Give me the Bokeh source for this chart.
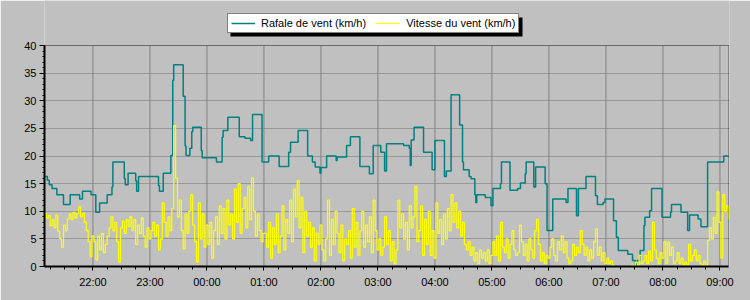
from bokeh.plotting import figure
from bokeh.models import Range1d, FixedTicker, Legend, LegendItem, BoxAnnotation
from bokeh.embed import file_html
from bokeh.resources import INLINE

# ---------------- data ----------------
tick_labels = ["22:00", "23:00", "00:00", "01:00", "02:00", "03:00",
               "04:00", "05:00", "06:00", "07:00", "08:00", "09:00"]
y_ticks = [0, 5, 10, 15, 20, 25, 30, 35, 40]

series_names = ["Rafale de vent (km/h)", "Vitesse du vent (km/h)"]

# Rafale (gust) : step changes (time, value)
rafale_times = [
    "21:09", "21:12", "21:14", "21:17", "21:22", "21:29", "21:36", "21:46", "21:49", "21:58",
    "22:03", "22:07", "22:15", "22:20", "22:21", "22:33", "22:34", "22:37", "22:45", "22:46",
    "22:48", "23:09", "23:10", "23:14", "23:22", "23:24", "23:25", "23:35", "23:37", "23:38",
    "23:42", "23:44", "23:45", "23:54", "23:55", "00:10", "00:16", "00:17", "00:22", "00:34",
    "00:40", "00:46", "00:48", "00:58", "01:05", "01:16", "01:26", "01:28", "01:36", "01:46",
    "01:51", "01:54", "01:59", "02:00", "02:06", "02:16", "02:17", "02:27", "02:31", "02:41",
    "02:51", "02:55", "03:03", "03:07", "03:09", "03:27", "03:33", "03:34", "03:35", "03:38",
    "03:48", "03:57", "04:00", "04:10", "04:12", "04:17", "04:26", "04:29", "04:30", "04:36",
    "04:38", "04:42", "04:43", "04:44", "04:53", "04:59", "05:01", "05:09", "05:10", "05:19",
    "05:27", "05:30", "05:35", "05:36", "05:44", "05:46", "05:56", "05:58", "06:04", "06:18",
    "06:20", "06:29", "06:31", "06:39", "06:49", "06:51", "06:57", "06:59", "07:08", "07:11",
    "07:13", "07:23", "07:28", "07:31", "07:33", "07:36", "07:40", "07:41", "07:46", "07:48",
    "07:59", "08:08", "08:09", "08:19", "08:26", "08:28", "08:37", "08:40", "08:47", "09:04",
    "09:09",
]
rafale_values = [
    16.3, 15.6, 14.8, 14.1, 13.0, 11.2, 13.0, 12.2, 13.6, 13.0,
    9.8, 11.5, 13.0, 14.4, 18.9, 15.9, 14.8, 16.9, 15.5, 13.6,
    16.3, 14.6, 13.6, 16.9, 20.1, 33.7, 36.5, 30.8, 21.8, 20.1,
    21.4, 24.4, 25.2, 21.0, 19.7, 18.9, 23.4, 24.6, 27.0, 23.5,
    23.2, 22.8, 27.5, 18.9, 20.0, 18.1, 20.7, 22.5, 24.6, 20.0,
    18.9, 18.0, 16.9, 17.9, 20.0, 19.2, 19.8, 21.9, 23.5, 18.1,
    16.8, 21.9, 20.7, 17.3, 22.2, 21.9, 21.4, 18.3, 22.9, 25.2,
    20.7, 17.5, 22.8, 16.3, 17.3, 31.1, 25.6, 18.9, 17.5, 16.3,
    15.9, 13.0, 11.6, 13.0, 12.5, 11.0, 14.1, 15.0, 18.9, 13.8,
    14.1, 15.1, 16.8, 18.9, 14.4, 18.0, 15.0, 6.5, 12.2, 11.6,
    14.1, 9.2, 14.1, 16.3, 12.8, 11.2, 11.6, 12.2, 8.3, 5.3,
    2.9, 2.2, 1.1, 0.3, 1.1, 2.9, 7.4, 8.9, 10.1, 14.1,
    8.9, 9.8, 11.2, 9.8, 6.5, 9.3, 8.6, 7.2, 18.9, 20.0,
    20.0,
]

# Vitesse (mean speed) : one reading every 2 minutes from 21:09
vitesse_start = "21:09"
vitesse_step_minutes = 2
vitesse_21h = [9.6, 8.8, 9.2, 7.4, 8.5, 7.0, 9.3, 6.4, 5.0, 3.5, 7.5, 6.5, 8.6,
               9.5, 8.5, 9.8, 8.8, 9.5, 10.8, 9.0, 9.6, 8.0, 6.5, 4.5, 1.8, 5.5]
vitesse_22h = [4.5, 1.2, 5.5, 3.0, 6.0, 2.5, 4.0, 5.5, 7.0, 9.0, 6.5, 8.0, 4.5, 0.8, 7.0,
               8.2, 6.0, 8.5, 7.2, 9.0, 6.5, 8.5, 4.0, 7.5, 6.0, 8.8, 5.5, 3.5, 7.0, 5.0]
vitesse_23h = [6.5, 8.0, 5.5, 7.5, 3.0, 5.0, 11.5, 8.0, 5.5, 9.0, 6.5, 10.5, 25.5, 16.0, 9.0,
               12.0, 6.5, 3.2, 9.5, 6.0, 10.0, 13.0, 7.5, 4.5, 0.8, 11.5, 5.0, 9.5, 3.5, 7.5]
vitesse_00h = [4.0, 8.0, 1.5, 6.5, 9.0, 4.0, 11.0, 6.0, 10.5, 5.0, 12.0, 7.5, 9.5, 5.0, 14.0,
               8.0, 15.0, 6.0, 10.5, 12.5, 7.0, 14.5, 8.5, 16.0, 10.0, 5.5, 9.5, 6.5, 4.5, 6.0]
vitesse_01h = [6.0, 3.5, 8.0, 1.5, 7.0, 4.0, 9.5, 2.5, 5.5, 11.0, 3.0, 8.5, 6.0, 12.0, 4.5,
               14.0, 9.0, 15.5, 7.0, 12.5, 2.5, 10.0, 5.5, 8.0, 3.5, 7.0, 1.0, 6.0, 4.0, 7.5]
vitesse_02h = [3.0, 1.0, 5.0, 12.0, 2.0, 8.5, 4.0, 10.0, 6.0, 2.5, 7.5, 1.0, 5.0, 4.0, 6.5,
               1.5, 10.5, 3.5, 8.0, 2.0, 6.5, 10.0, 3.5, 7.5, 4.5, 9.0, 2.5, 12.0, 6.5, 3.0]
vitesse_03h = [5.0, 2.0, 3.5, 9.0, 4.0, 6.5, 1.0, 4.5, 0.5, 3.0, 12.0, 7.0, 9.5, 5.0, 8.0,
               3.0, 11.0, 7.0, 9.0, 14.5, 4.5, 6.5, 11.0, 2.0, 8.5, 4.0, 10.0, 2.0, 6.5, 1.5]
vitesse_04h = [11.5, 6.0, 8.5, 4.0, 9.5, 5.0, 10.5, 6.5, 13.0, 8.0, 11.5, 7.0, 10.0, 5.5, 8.0,
               4.0, 3.0, 4.5, 2.0, 3.5, 1.0, 2.5, 0.5, 3.0, 1.5, 2.5, 1.0, 3.0, 0.5, 2.0]
vitesse_05h = [4.5, 2.0, 5.5, 1.0, 8.0, 3.5, 2.5, 5.0, 1.5, 4.0, 6.5, 3.0, 2.0, 2.5, 7.5,
               4.5, 2.0, 4.0, 1.0, 5.0, 3.0, 1.5, 6.5, 8.5, 4.0, 1.0, 2.5, 0.5, 2.0, 1.5]
vitesse_06h = [3.5, 5.0, 2.0, 1.0, 4.5, 3.0, 5.5, 2.5, 4.5, 1.5, 0.5, 1.0, 4.0, 2.0, 3.5,
               2.5, 6.5, 4.0, 2.0, 3.5, 1.0, 3.0, 1.5, 4.5, 6.8, 2.0, 3.5, 1.0, 2.5, 0.5]
vitesse_07h = [1.5, 0.5, 1.0, 0.2, 0.0, 0.0, 0.0, 0.0, 0.0, 0.0, 0.0, 0.0, 0.0, 0.2, 0.0,
               0.8, 0.3, 2.0, 0.5, 1.0, 2.0, 0.5, 2.8, 1.0, 8.0, 3.0, 1.5, 0.5, 2.5, 1.5]
vitesse_08h = [4.5, 0.5, 4.4, 2.0, 3.5, 0.5, 1.0, 2.5, 0.5, 1.5, 0.3, 0.8, 0.3, 4.0, 1.0,
               2.0, 3.0, 1.0, 2.0, 0.5, 0.2, 1.0, 0.3, 4.7, 7.0, 5.0, 8.9, 6.0, 13.5, 8.0]
vitesse_09h = [1.5, 13.0, 10.0, 11.0, 8.5]

vitesse_values = (vitesse_21h + vitesse_22h + vitesse_23h + vitesse_00h + vitesse_01h +
                  vitesse_02h + vitesse_03h + vitesse_04h + vitesse_05h + vitesse_06h +
                  vitesse_07h + vitesse_08h + vitesse_09h)


def to_hours(s):
    h, m = map(int, s.split(":"))
    t = h + m / 60.0
    if t < 12:
        t += 24
    return t


rafale_x = [to_hours(t) for t in rafale_times]
v0 = to_hours(vitesse_start)
vitesse_x = [v0 + i * vitesse_step_minutes / 60.0 for i in range(len(vitesse_values))]
tick_pos = [to_hours(t) for t in tick_labels]

X_START = to_hours(rafale_times[0])
X_END = to_hours(rafale_times[-1])
Y_MIN, Y_MAX = y_ticks[0], y_ticks[-1]

# ---------------- figure ----------------
BG = "#C0C0C0"
FONT = "Liberation Sans"

# frame spans the full top of the canvas so the legend (above the 40 line) is not clipped
plot_h_px = 221.0                 # pixel height of 0..40
top_extra = 45.0                  # pixels above the 40 line
y_top = Y_MAX + top_extra * (Y_MAX - Y_MIN) / plot_h_px
x_pad = 1.0 / 57.0                # one pixel so the right border is fully drawn

p = figure(width=750, height=300, output_backend="svg", toolbar_location=None,
           x_range=Range1d(X_START, X_END + x_pad), y_range=Range1d(Y_MIN, y_top),
           min_border_left=44, min_border_right=21, min_border_top=0,
           min_border_bottom=34)
p.background_fill_color = BG
p.border_fill_color = BG
p.outline_line_color = None

p.xaxis.ticker = FixedTicker(ticks=tick_pos,
                             minor_ticks=[21.25 + 0.25 * i for i in range(48)])
p.xaxis.major_label_overrides = {tp: lab for tp, lab in zip(tick_pos, tick_labels)}
p.xaxis.bounds = (X_START, X_END)
p.yaxis.ticker = FixedTicker(ticks=y_ticks, minor_ticks=list(range(Y_MIN, Y_MAX + 1)))
p.yaxis.bounds = (Y_MIN, Y_MAX)

for ax in (p.xaxis, p.yaxis):
    ax.axis_line_color = "black"
    ax.axis_line_width = 2
    ax.major_tick_line_color = "black"
    ax.minor_tick_line_color = "black"
    ax.major_tick_in = 0
    ax.minor_tick_in = 0
    ax.major_label_text_font = FONT
    ax.major_label_text_font_size = "11px"
    ax.major_label_text_color = "black"
p.xaxis.major_tick_out = 4
p.xaxis.minor_tick_out = 3
p.xaxis.major_label_standoff = 5
p.yaxis.major_tick_out = 5
p.yaxis.minor_tick_out = 2
p.yaxis.major_label_standoff = 3

p.xgrid.grid_line_color = None
p.ygrid.grid_line_color = "#707070"
p.ygrid.grid_line_dash = "1 1"
p.ygrid.grid_line_width = 1

# vertical hour lines, limited to the 0..40 area
p.segment(x0=tick_pos, y0=[Y_MIN] * len(tick_pos), x1=tick_pos, y1=[Y_MAX] * len(tick_pos),
          line_color="#808080", line_width=1)

r1 = p.step(rafale_x, rafale_values, mode="after", line_color="#008080", line_width=1.5)
r2 = p.step(vitesse_x, vitesse_values, mode="after", line_color="#FFFF00", line_width=1.2)

# plot-area border (top and right edges)
p.add_layout(BoxAnnotation(left=X_START, right=X_END, bottom=Y_MIN, top=Y_MAX,
                           fill_alpha=0, line_color="black", line_width=1))

# legend drop shadow (canvas pixels), then the legend itself
LEG_LEFT, LEG_TOP, LEG_W, LEG_H, SHADOW = 227, 14, 292, 19, 3
p.add_layout(BoxAnnotation(left=LEG_LEFT + SHADOW, right=LEG_LEFT + LEG_W + SHADOW,
                           top=LEG_TOP + SHADOW, bottom=LEG_TOP + LEG_H + SHADOW,
                           left_units="canvas", right_units="canvas",
                           top_units="canvas", bottom_units="canvas",
                           fill_color="black", fill_alpha=1.0, line_color=None))

legend = Legend(items=[LegendItem(label=series_names[0], renderers=[r1]),
                       LegendItem(label=series_names[1], renderers=[r2])],
                location=(LEG_LEFT - 44, 266 - LEG_TOP - LEG_H),
                orientation="horizontal", glyph_width=24, glyph_height=12,
                label_height=12, label_standoff=6, spacing=10, padding=3, margin=0,
                label_text_font=FONT, label_text_font_size="11px",
                label_text_color="black",
                border_line_color="black", border_line_width=1,
                background_fill_color="white", background_fill_alpha=1.0)
p.add_layout(legend)

open("out.html", "w").write(file_html(p, INLINE))
